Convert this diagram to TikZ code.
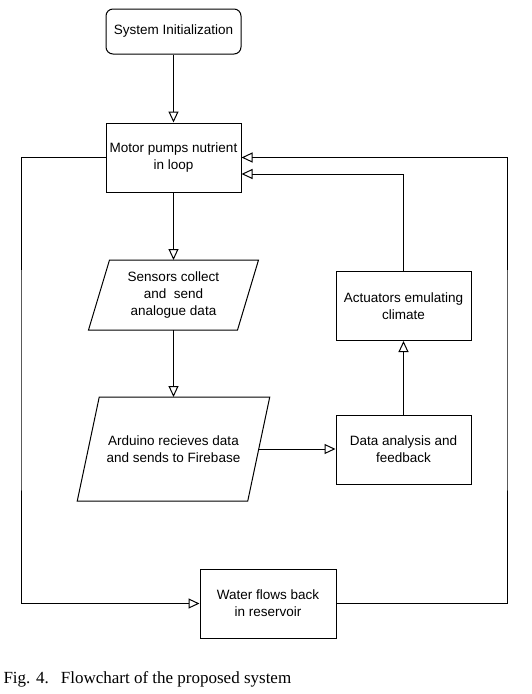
\documentclass[tikz,border=0pt]{standalone}
\usepackage{fontspec}
\setmainfont{Liberation Serif}
\newfontfamily\diagfont{Liberation Sans}
\usetikzlibrary{arrows.meta,positioning}

\begin{document}
\begin{tikzpicture}
    [x=1pt,y=-1pt,
      line width=1pt,
      box/.style={draw,rectangle,minimum width=135pt,minimum height=69pt,
        align=center,font=\diagfont\fontsize{13.5}{16.7}\selectfont},
      startbox/.style={box,rounded corners=7pt,minimum height=45pt},
      iobox/.style={rectangle,align=center,minimum height=#1,
        font=\diagfont\fontsize{13.5}{16.7}\selectfont},
      flow/.style={-{Triangle[open,length=11pt,width=10pt]}},
      caption/.style={anchor=base west,inner sep=0pt,font=\fontsize{17}{20}\selectfont}]
    \useasboundingbox (0,0) rectangle (531,694);
    \node[startbox] (init) at (173.5,31.5) {System Initialization};
    \node[box] (pump) at (173.5,157.5) {Motor pumps nutrient\\in loop};
    \node[iobox=69pt,minimum width=148pt] (sens) at (173.5,295) {Sensors collect\\and \ send\\analogue data};
    \node[iobox=103pt,minimum width=169.5pt] (ard) at (173.5,449) {Arduino recieves data\\and sends to Firebase};
    \node[box] (act) at (403.5,306) {Actuators emulating\\climate};
    \node[box] (ana) at (403.5,449.5) {Data analysis and\\feedback};
    \node[box,minimum width=136pt] (water) at (268,603.5) {Water flows back\\in reservoir};
    \node[caption] (cap) at (3,683) {Fig. 4.\hspace{12pt}Flowchart of the proposed system};
    \draw ([xshift=10.5pt]sens.north west) -- ([xshift=10.5pt]sens.north east)
      -- ([xshift=-10.5pt]sens.south east) -- ([xshift=-10.5pt]sens.south west) -- cycle;
    \draw ([xshift=11pt]ard.north west) -- ([xshift=11pt]ard.north east)
      -- ([xshift=-11pt]ard.south east) -- ([xshift=-11pt]ard.south west) -- cycle;
    \coordinate (lft) at (21,380);
    \coordinate (rgt) at (507,380);
    \coordinate (pumpin) at ([yshift=-16.5pt]pump.east);
    \draw[flow] (init) -- (pump);
    \draw[flow] (pump) -- (sens);
    \draw[flow] (sens) -- (ard);
    \draw[flow] (ard.east) -- (ard.east -| ana.west);
    \draw[flow] (ana) -- (act);
    \draw[flow] (act) |- (pumpin);
    \draw[flow] (pump.west) -| (lft) |- (water.west);
    \draw[flow] (water.east) -| (rgt) |- (pump.east);
  \end{tikzpicture}
\end{document}
